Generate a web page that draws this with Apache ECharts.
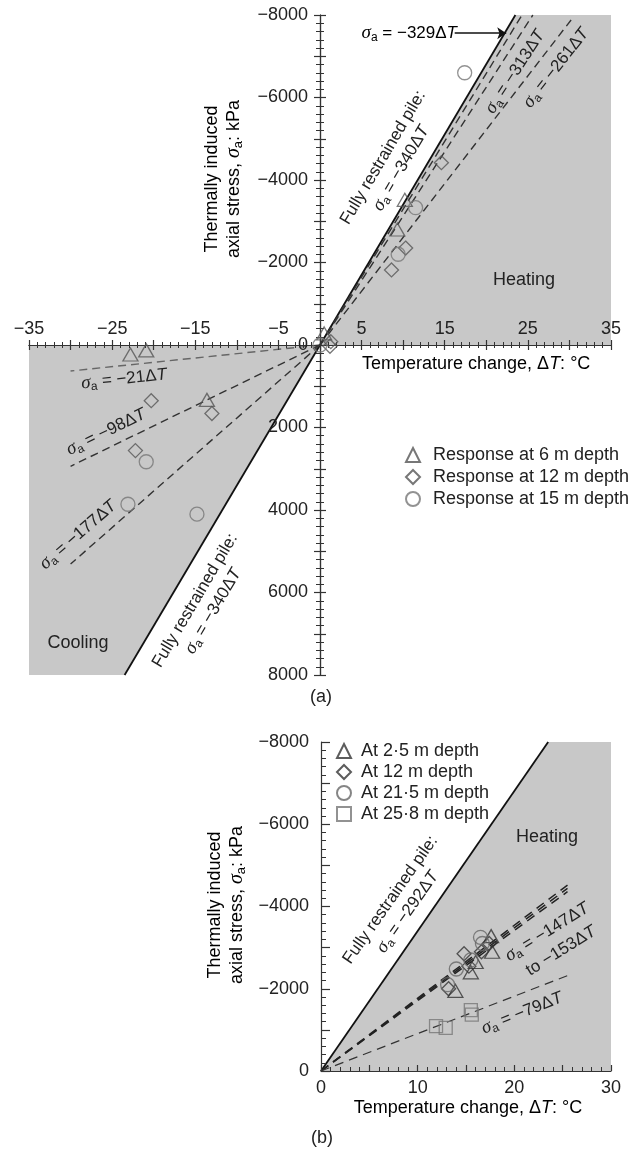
<!DOCTYPE html>
<html>
<head>
<meta charset="utf-8">
<script src="https://cdn.jsdelivr.net/npm/echarts@6/dist/echarts.min.js"></script>
<style>
html, body { margin: 0; padding: 0; background: #fff; }
#main { width: 636px; height: 1151px; }
</style>
</head>
<body>
<div id="main"></div>
<script>
// thermal axial stress in energy piles, (a) heating/cooling, (b) heating only
var SANS = 'Liberation Sans, Arial, sans-serif';
var SERIF = 'Liberation Serif, Times New Roman, serif';
var INK = '#222';
var SHADE = '#c8c8c8';

// ---- (a) measured responses [dT degC, stress kPa]
var tri6  = [[-22.8, 230], [-20.9, 130], [-13.6, 1330], [0.5, -280], [9.3, -2800], [10.2, -3520]];
var dia12 = [[-22.2, 2560], [-20.3, 1350], [-13.0, 1660], [1.2, 30], [1.3, -80], [8.6, -1820], [10.3, -2350], [14.6, -4420]];
var cir15 = [[-23.1, 3860], [-20.9, 2830], [-14.8, 4100], [0, 0], [9.4, -2200], [11.5, -3330], [17.4, -6600]];

// ---- (a) lines
var fullA  = [[-23.5, 8000], [23.5, -8000]];
var fit329 = [[0, 0], [24.3, -8000]];
var fit313 = [[0, 0], [25.6, -8000]];
var fit261 = [[0, 0], [30.2, -7880]];
var fit21  = [[0, 0], [-30, 630]];
var fit98  = [[0, 0], [-30, 2940]];
var fit177 = [[0, 0], [-30, 5310]];
var arrow329 = [[16.2, -7560], [22.4, -7560]];
var heatA = [[0, 0], [23.5, -8000], [35, -8000], [35, 0]];
var coolA = [[0, 0], [-23.5, 8000], [-35, 8000], [-35, 0]];

// ---- (b) measured responses
var tri25  = [[13.9, -1950], [15.5, -2400], [16.0, -2650], [17.7, -2900], [17.6, -3280]];
var dia12b = [[13.2, -2000], [14.8, -2850], [15.3, -2550], [16.6, -2900], [17.4, -3100]];
var cir215 = [[13.1, -2100], [14.0, -2480], [15.5, -2700], [16.7, -3100], [16.5, -3250]];
var sq258  = [[11.9, -1090], [12.9, -1050], [15.5, -1480], [15.6, -1370]];

// ---- (b) lines
var fullB  = [[0, 0], [23.5, -8000]];
var fit147 = [[0, 0], [25.5, -4520]];
var fit150 = [[0, 0], [25.5, -4440]];
var fit153 = [[0, 0], [25.5, -4360]];
var fit79  = [[0, 0], [25.5, -2320]];
var heatB = [[0, 0], [23.5, -8000], [30, -8000], [30, 0]];

var namesA = ['Response at 6 m depth', 'Response at 12 m depth', 'Response at 15 m depth'];
var namesB = ['At 2\u00b75 m depth', 'At 12 m depth', 'At 21\u00b75 m depth', 'At 25\u00b78 m depth'];

function fmt(v) { return String(v).replace('-', '\u2212'); }
function sig(k) { return '{s|\u03c3}{sub|a}{n| = \u2212' + k + '\u0394}{i|T}'; }

var RICH = {
    n: { fontSize: 17, fontFamily: SANS, color: INK, lineHeight: 21 },
    i: { fontSize: 17, fontFamily: SANS, fontStyle: 'italic', color: INK, lineHeight: 21 },
    s: { fontSize: 19, fontFamily: SERIF, fontStyle: 'italic', color: INK, lineHeight: 21 },
    sub: { fontSize: 12, fontFamily: SANS, color: INK, verticalAlign: 'bottom' },
    N: { fontSize: 18, fontFamily: SANS, color: INK, lineHeight: 22 },
    I: { fontSize: 18, fontFamily: SANS, fontStyle: 'italic', color: INK, lineHeight: 22 },
    S: { fontSize: 20, fontFamily: SERIF, fontStyle: 'italic', color: INK, lineHeight: 22 },
    SUB: { fontSize: 13, fontFamily: SANS, color: INK, verticalAlign: 'bottom' }
};

var yName = '{N|Thermally induced}\n{N|axial stress, }{S|\u03c3}{SUB|a}{N|: kPa}';
var xName = '{N|Temperature change, \u0394}{I|T}{N|: \u00b0C}';

var notes = [
    { x: 392, y: 163, r: 59.5, t: '{n|Fully restrained pile:}\n' + sig('340') },
    { x: 204, y: 606, r: 59.5, t: '{n|Fully restrained pile:}\n' + sig('340') },
    { x: 515, y: 72, r: 57, t: sig('313') },
    { x: 556, y: 68, r: 52, t: sig('261') },
    { x: 124, y: 379, r: 6, t: sig('21') },
    { x: 106, y: 432, r: 26, t: sig('98') },
    { x: 78, y: 535, r: 41, t: sig('177') },
    { x: 399, y: 906, r: 55, t: '{n|Fully restrained pile:}\n' + sig('292') },
    { x: 547, y: 932, r: 32, t: sig('147') },
    { x: 561, y: 951, r: 32, t: '{n|to \u2212153\u0394}{i|T}' },
    { x: 522, y: 1013, r: 22, t: sig('79') }
];

var graphics = notes.map(function (d) {
    return {
        type: 'text', x: d.x, y: d.y, rotation: d.r * Math.PI / 180, silent: true, z: 10,
        style: { text: d.t, rich: RICH, align: 'center', verticalAlign: 'middle', fill: INK }
    };
});
function plainText(x, y, t) {
    return { type: 'text', x: x, y: y, silent: true, z: 10,
        style: { text: t, fontSize: 18, fontFamily: SANS, fill: INK, align: 'center', verticalAlign: 'middle' } };
}
graphics.push(
    { type: 'text', x: 457, y: 33, silent: true, z: 10,
      style: { text: sig('329'), rich: RICH, align: 'right', verticalAlign: 'middle' } },
    plainText(524, 280, 'Heating'),
    plainText(78, 643, 'Cooling'),
    plainText(547, 837, 'Heating'),
    plainText(321, 697, '(a)'),
    plainText(322, 1138, '(b)'),
    { type: 'text', x: 223, y: 179, rotation: Math.PI / 2, silent: true, z: 10,
      style: { text: yName, rich: RICH, align: 'center', verticalAlign: 'middle' } },
    { type: 'text', x: 226, y: 905, rotation: Math.PI / 2, silent: true, z: 10,
      style: { text: yName, rich: RICH, align: 'center', verticalAlign: 'middle' } },
    { type: 'text', x: 362, y: 364, silent: true, z: 10,
      style: { text: xName, rich: RICH, align: 'left', verticalAlign: 'middle' } },
    { type: 'text', x: 468, y: 1108, silent: true, z: 10,
      style: { text: xName, rich: RICH, align: 'center', verticalAlign: 'middle' } }
);

function shade(poly, ax) {
    return {
        type: 'custom', xAxisIndex: ax, yAxisIndex: ax, data: [[0, 0]], silent: true, z: 1, clip: false,
        renderItem: function (params, api) {
            return { type: 'polygon', shape: { points: poly.map(function (p) { return api.coord(p); }) },
                     style: { fill: SHADE } };
        }
    };
}
function fitLine(data, ax, color, width, dash) {
    return {
        type: 'line', xAxisIndex: ax, yAxisIndex: ax, data: data, symbol: 'none', silent: true, z: 3,
        lineStyle: { color: color, width: width, type: dash || 'solid' }
    };
}
function pts(name, data, ax, symbol, size, color) {
    return {
        name: name, type: 'scatter', xAxisIndex: ax, yAxisIndex: ax, data: data, symbol: symbol,
        symbolSize: size, z: 5,
        itemStyle: { color: 'rgba(0,0,0,0)', borderColor: color, borderWidth: 1.3 }
    };
}

var lbl = { fontSize: 18, fontFamily: SANS, color: INK };
var axisLn = { color: '#333', width: 1.2 };
var thin = { color: '#333', width: 1 };

// axis builders: the cross-shaped axes of (a) are drawn from half-grids meeting at the origin
function xAx(grid, min, max, pos, labels, tickLen, minorLen, inside) {
    return { gridIndex: grid, type: 'value', min: min, max: max, interval: 5, position: pos, z: 4,
        axisLine: { onZero: false, lineStyle: axisLn },
        axisTick: { show: true, inside: !!inside, length: tickLen, lineStyle: axisLn },
        minorTick: { show: true, splitNumber: 5, length: minorLen, lineStyle: thin },
        axisLabel: labels ? Object.assign({ margin: 7, showMinLabel: true, showMaxLabel: true }, labels, lbl) : { show: false },
        splitLine: { show: false } };
}
function yAx(grid, min, max, pos, labels, tickLen, minorLen, inside) {
    return { gridIndex: grid, type: 'value', min: min, max: max, interval: 1000, inverse: true, position: pos, z: 4,
        axisLine: { onZero: false, lineStyle: axisLn },
        axisTick: { show: true, inside: !!inside, length: tickLen, lineStyle: axisLn },
        minorTick: { show: true, splitNumber: 5, length: minorLen, lineStyle: thin },
        axisLabel: labels ? Object.assign({ showMinLabel: true, showMaxLabel: true }, labels, lbl) : { show: false },
        splitLine: { show: false } };
}
function hidden(grid) {
    return { gridIndex: grid, type: 'value', show: false, min: 0, max: 1 };
}
var skipTens = { formatter: function (v) { return v % 10 ? fmt(v) : ''; } };
var tensOnly = { margin: 8, formatter: function (v) { return v % 10 ? '' : fmt(v); } };
var evenK = { margin: 12, formatter: function (v) { return v % 2000 ? '' : fmt(v); } };

var G = { containLabel: false, outerBoundsMode: 'none' };
function grid(l, t, w, h) { return Object.assign({ left: l, top: t, width: w, height: h }, G); }

var withArrow = fitLine(fit329, 0, '#333', 1.4, [8, 5]);
withArrow.markLine = {
    silent: true, symbol: ['none', 'arrow'], symbolSize: 9, label: { show: false },
    lineStyle: { color: '#111', type: 'solid', width: 1.5 },
    data: [[{ coord: arrow329[0] }, { coord: arrow329[1] }]]
};

var option = {
    animation: false,
    backgroundColor: '#fff',
    grid: [
        grid(29, 15, 582, 660),   // 0 data (a)
        grid(29, 345, 582, 330),  // 1 x axis, labels above
        grid(29, 15, 582, 330),   // 2 x axis, ticks below
        grid(320, 15, 291, 660),  // 3 y axis, labels left
        grid(29, 15, 291, 660),   // 4 y axis, ticks right
        grid(321, 742, 290, 329)  // 5 (b)
    ],
    xAxis: [
        Object.assign(hidden(0), { min: -35, max: 35 }),
        xAx(1, -35, 35, 'top', skipTens, 5, 3),
        xAx(2, -35, 35, 'bottom', null, 5, 3),
        hidden(3),
        hidden(4),
        xAx(5, 0, 30, 'bottom', tensOnly, 6, 4, true)
    ],
    yAxis: [
        Object.assign(hidden(0), { min: -8000, max: 8000, inverse: true }),
        hidden(1),
        hidden(2),
        yAx(3, -8000, 8000, 'left', evenK, 6, 4),
        yAx(4, -8000, 8000, 'right', null, 6, 4),
        yAx(5, -8000, 0, 'left', evenK, 9, 5, true)
    ],
    legend: [
        { data: namesA, left: 400, top: 441, orient: 'vertical', itemWidth: 14, itemHeight: 14, itemGap: 4,
          selectedMode: false, textStyle: Object.assign({ padding: [0, 0, 0, 8] }, lbl) },
        { data: namesB, left: 331, top: 737, orient: 'vertical', itemWidth: 14, itemHeight: 14, itemGap: 3,
          selectedMode: false, textStyle: Object.assign({ padding: [0, 0, 0, 5] }, lbl) }
    ],
    graphic: graphics,
    series: [
        shade(heatA, 0), shade(coolA, 0), shade(heatB, 5),
        fitLine(fullA, 0, '#111', 1.8),
        withArrow,
        fitLine(fit313, 0, '#333', 1.4, [8, 5]),
        fitLine(fit261, 0, '#333', 1.4, [8, 5]),
        fitLine(fit21, 0, '#666', 1.4, [8, 5]),
        fitLine(fit98, 0, '#333', 1.4, [8, 5]),
        fitLine(fit177, 0, '#333', 1.4, [8, 5]),
        pts(namesA[0], tri6, 0, 'triangle', [15, 13], '#555'),
        pts(namesA[1], dia12, 0, 'diamond', 14, '#555'),
        pts(namesA[2], cir15, 0, 'circle', 14, '#777'),
        fitLine(fullB, 5, '#111', 1.8),
        fitLine(fit147, 5, '#222', 1.5, [9, 6]),
        fitLine(fit150, 5, '#222', 1.5, [9, 6]),
        fitLine(fit153, 5, '#222', 1.5, [9, 6]),
        fitLine(fit79, 5, '#333', 1.2, [9, 6]),
        pts(namesB[0], tri25, 5, 'triangle', [15, 13], '#333'),
        pts(namesB[1], dia12b, 5, 'diamond', 14, '#333'),
        pts(namesB[2], cir215, 5, 'circle', 14, '#666'),
        pts(namesB[3], sq258, 5, 'rect', 13, '#777')
    ]
};

var chart = echarts.init(document.getElementById('main'));
chart.setOption(option);
</script>
</body>
</html>
